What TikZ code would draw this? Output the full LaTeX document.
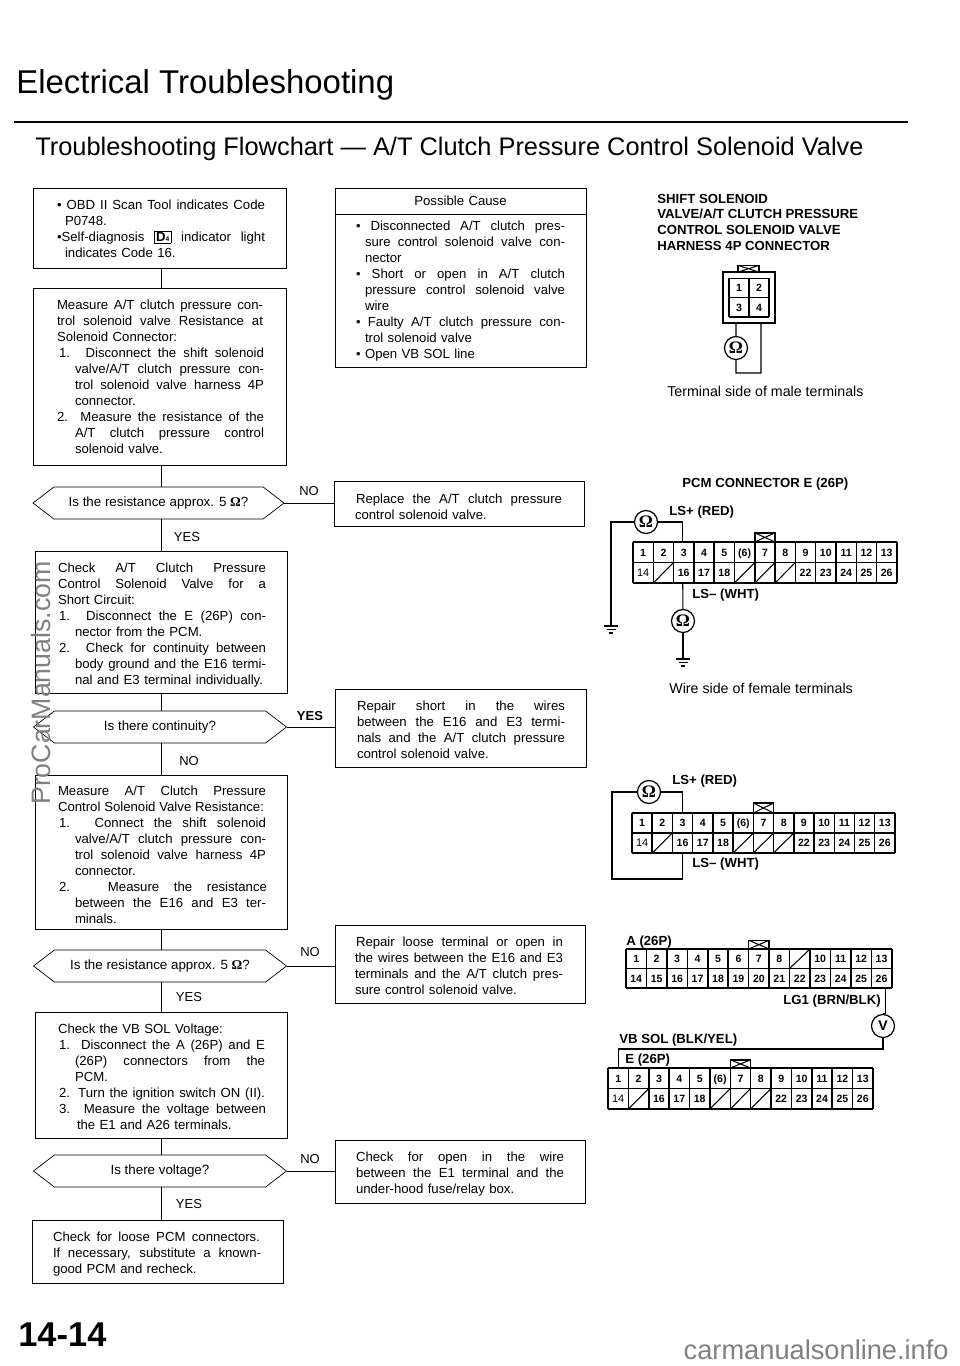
\documentclass[tikz,border=0pt]{standalone}
\usepackage{fontspec}
\setmainfont{Liberation Sans}
\newfontfamily\omegafont{Liberation Serif}
\usetikzlibrary{shapes.symbols}

\def\px{0.02cm}
\newlength\pxu
\setlength\pxu{0.02cm}
\newcommand{\flowfont}{\fontsize{7.5pt}{9.1pt}\selectfont}
\newcommand{\termfont}{\fontsize{6pt}{6pt}\selectfont\bfseries}
\newcommand{\headfont}{\fontsize{7.5pt}{9pt}\selectfont\bfseries}
\newcommand{\fitline}[3]{\hspace*{#1\pxu}\makebox[#2\pxu][s]{\spaceskip=0pt\xspaceskip=0pt\relax #3}}
\newcommand{\plainline}[2]{\hspace*{#1\pxu}#2}
\newcommand{\dropby}[1]{\rule{0pt}{\dimexpr 5.4pt+2\pxu*#1\relax}}
\newcommand{\dfour}{{\setlength\fboxsep{0.7pt}\fbox{\bfseries D\raisebox{0.3pt}{\fontsize{3.8pt}{4pt}\selectfont 4}}}}
\newcommand{\ohm}{{\omegafont\bfseries Ω}}

\tikzset{
  flowbox/.style 2 args={draw, rectangle, inner sep=0pt, outer sep=0pt, align=left, font=\flowfont, text width=230*\px, minimum width=#1*\px, minimum height=#2*\px},
  hexbox/.style={draw, signal, signal to=west and east, signal pointer angle=75, inner sep=0pt, outer sep=0pt, font=\fontsize{7.6pt}{9pt}\selectfont, minimum width=253*\px, minimum height=32*\px},
  flowline/.style={line width=0.5pt},
  answer/.style={font=\fontsize{7.4pt}{9pt}\selectfont, inner sep=0pt},
  wire/.style={line width=0.6pt},
  shell/.style={line width=0.85pt},
  meter/.style={draw, circle, line width=0.7pt, inner sep=0pt, minimum size=23*\px, font=\fontsize{10pt}{10pt}\selectfont},
  termlabel/.style={font=\termfont, inner sep=0pt, text height=4.4pt, text depth=0pt},
  plainterm/.style={termlabel, font=\fontsize{6.2pt}{6pt}\selectfont},
  headline/.style={font=\headfont, inner sep=0pt, anchor=west},
  caption/.style={font=\fontsize{8.1pt}{9pt}\selectfont, inner sep=0pt, anchor=west},
  gnd/.pic={\draw[wire] (-7,0) -- (7,0) (-4.5,3.5) -- (4.5,3.5) (-2,7) -- (2,7);},
}

\begin{document}
\begin{tikzpicture}[x=0.02cm,y=-0.02cm]
\useasboundingbox (0,0) rectangle (960,1366);

\node[anchor=west, inner sep=0pt, font=\fontsize{18.75pt}{20pt}\selectfont] (pagetitle) at (16,85) {Electrical Troubleshooting};
\coordinate (rulea) at (14,122);
\coordinate (ruleb) at (908,122);
\draw[line width=1.6pt] (rulea) -- (ruleb);
\node[anchor=west, inner sep=0pt, font=\fontsize{14.45pt}{16pt}\selectfont] (subtitle) at (35,149) {Troubleshooting Flowchart — A/T Clutch Pressure Control Solenoid Valve};

\coordinate (trunk) at (161,0);

\node[flowbox={253}{80}] (obdbox) at (159.5,228) {%
\dropby{1}\fitline{12.5}{208}{• OBD II Scan Tool indicates Code}\\
\plainline{20.5}{P0748.}\\
\fitline{12.5}{208}{•Self-diagnosis \dfour{} indicator light}\\
\plainline{20.5}{indicates Code 16.}};

\node[flowbox={253}{177}] (measurebox) at (159.5,376.5) {%
\fitline{12.5}{206}{Measure A/T clutch pressure con-}\\
\fitline{12.5}{206}{trol solenoid valve Resistance at}\\
\plainline{12.5}{Solenoid Connector:}\\
\fitline{14.5}{205}{1. Disconnect the shift solenoid}\\
\fitline{30.5}{189}{valve/A/T clutch pressure con-}\\
\fitline{30.5}{189}{trol solenoid valve harness 4P}\\
\plainline{30.5}{connector.}\\
\fitline{12.5}{207}{2. Measure the resistance of the}\\
\fitline{30.5}{189}{A/T clutch pressure control}\\
\plainline{30.5}{solenoid valve.}};

\node[hexbox, minimum width=251*\px] (hexa) at (158.5,503) {Is the resistance approx. 5 \ohm?};

\node[flowbox={252}{142}] (shortbox) at (161.5,622) {%
\dropby{3}\fitline{11.5}{208}{Check A/T Clutch Pressure}\\
\fitline{11.5}{208}{Control Solenoid Valve for a}\\
\plainline{11.5}{Short Circuit:}\\
\fitline{12.5}{207}{1. Disconnect the E (26P) con-}\\
\plainline{28.5}{nector from the PCM.}\\
\fitline{12.5}{207}{2. Check for continuity between}\\
\fitline{28.5}{191}{body ground and the E16 termi-}\\
\fitline{28.5}{188}{nal and E3 terminal individually.}};

\node[hexbox] (hexb) at (160,727) {Is there continuity?};

\node[flowbox={252}{154}] (resistbox) at (161.5,852) {%
\dropby{3}\fitline{11.5}{208}{Measure A/T Clutch Pressure}\\
\fitline{11.5}{206}{Control Solenoid Valve Resistance:}\\
\fitline{12.5}{207}{1. Connect the shift solenoid}\\
\fitline{28.5}{191}{valve/A/T clutch pressure con-}\\
\fitline{28.5}{191}{trol solenoid valve harness 4P}\\
\plainline{28.5}{connector.}\\
\fitline{12.5}{208}{2. Measure the resistance}\\
\fitline{28.5}{191}{between the E16 and E3 ter-}\\
\plainline{28.5}{minals.}};

\node[hexbox] (hexc) at (160,966) {Is the resistance approx. 5 \ohm?};

\node[flowbox={252}{126}] (voltbox) at (161.5,1075) {%
\dropby{2}\plainline{11.5}{Check the VB SOL Voltage:}\\
\fitline{12.5}{206}{1. Disconnect the A (26P) and E}\\
\fitline{28.5}{190}{(26P) connectors from the}\\
\plainline{28.5}{PCM.}\\
\fitline{12.5}{206}{2. Turn the ignition switch ON (II).}\\
\fitline{12.5}{207}{3. Measure the voltage between}\\
\plainline{30.5}{the E1 and A26 terminals.}};

\node[hexbox] (hexd) at (160,1171) {Is there voltage?};

\node[flowbox={251}{63}] (loosebox) at (157.5,1251.5) {%
\dropby{3}\fitline{10.5}{207}{Check for loose PCM connectors.}\\
\fitline{10.5}{208}{If necessary, substitute a known-}\\
\plainline{10.5}{good PCM and recheck.}};

\draw[flowline] (obdbox.south -| trunk) -- (measurebox.north -| trunk);
\draw[flowline] (measurebox.south -| trunk) -- (hexa.north -| trunk);
\draw[flowline] (hexa.south -| trunk) -- (shortbox.north -| trunk);
\draw[flowline] (shortbox.south -| trunk) -- (hexb.north -| trunk);
\draw[flowline] (hexb.south -| trunk) -- (resistbox.north -| trunk);
\draw[flowline] (resistbox.south -| trunk) -- (hexc.north -| trunk);
\draw[flowline] (hexc.south -| trunk) -- (voltbox.north -| trunk);
\draw[flowline] (voltbox.south -| trunk) -- (hexd.north -| trunk);
\draw[flowline] (hexd.south -| trunk) -- (loosebox.north -| trunk);

\node[answer] (yesa) at (187,537) {YES};
\node[answer] (noa) at (189,761) {NO};
\node[answer] (yesb) at (189,997) {YES};
\node[answer] (yesc) at (189,1204) {YES};

\node[flowbox={251}{26}, align=center] (causehead) at (460.5,201) {Possible Cause};
\node[flowbox={251}{153}] (causebox) at (460.5,290.5) {%
\dropby{1}\fitline{10.5}{209}{• Disconnected A/T clutch pres-}\\
\fitline{19.5}{200}{sure control solenoid valve con-}\\
\plainline{19.5}{nector}\\
\fitline{10.5}{209}{• Short or open in A/T clutch}\\
\fitline{19.5}{200}{pressure control solenoid valve}\\
\plainline{19.5}{wire}\\
\fitline{10.5}{209}{• Faulty A/T clutch pressure con-}\\
\plainline{19.5}{trol solenoid valve}\\
\plainline{10.5}{• Open VB SOL line}};

\node[flowbox={250}{45}] (replacebox) at (459,503.5) {%
\dropby{3}\fitline{12}{206}{Replace the A/T clutch pressure}\\
\plainline{11}{control solenoid valve.}};

\node[flowbox={251}{78}] (repairbox) at (460.5,728) {%
\dropby{2}\fitline{11.5}{208}{Repair short in the wires}\\
\fitline{11.5}{208}{between the E16 and E3 termi-}\\
\fitline{11.5}{208}{nals and the A/T clutch pressure}\\
\plainline{11.5}{control solenoid valve.}};

\node[flowbox={250}{78}] (openbox) at (460,964) {%
\dropby{2}\fitline{11}{207}{Repair loose terminal or open in}\\
\fitline{10}{208}{the wires between the E16 and E3}\\
\fitline{10}{208}{terminals and the A/T clutch pres-}\\
\plainline{10}{sure control solenoid valve.}};

\node[flowbox={250}{63}] (wirebox) at (460,1171.5) {%
\dropby{3}\fitline{11}{208}{Check for open in the wire}\\
\fitline{11}{208}{between the E1 terminal and the}\\
\plainline{11}{under-hood fuse/relay box.}};

\draw[flowline] (hexa.east) -- (replacebox.west |- hexa.east);
\draw[flowline] (hexb.east) -- (repairbox.west |- hexb.east);
\draw[flowline] (hexc.east) -- (openbox.west |- hexc.east);
\draw[flowline] (hexd.east) -- (wirebox.west |- hexd.east);

\node[answer] (nob) at (309,491) {NO};
\node[answer, font=\fontsize{7.4pt}{9pt}\selectfont\bfseries] (noc) at (310,716) {YES};
\node[answer] (nod) at (310,952) {NO};
\node[answer] (noe) at (310,1159) {NO};

% harness 4P connector
\node[headline] (heada) at (657,199) {SHIFT SOLENOID};
\node[headline] (headb) at (657,214) {VALVE/A/T CLUTCH PRESSURE};
\node[headline] (headc) at (657,230) {CONTROL SOLENOID VALVE};
\node[headline] (headd) at (657,246) {HARNESS 4P CONNECTOR};

\begin{scope}[shift={(729,317)},x=0.4cm,y=0.39cm]
\draw[shell] (-0.3,-0.3) rectangle (2.3,2.3);
\draw[wire] (0,0) grid[step=1] (2,2);
\draw[shell] (0.45,2.3) rectangle (1.5,2.65);
\draw[wire] (0.45,2.3) -- (1.5,2.65) (0.45,2.65) -- (1.5,2.3);
\node[termlabel] (ha1) at (0.5,1.5) {1};
\node[termlabel] (ha2) at (1.5,1.5) {2};
\node[termlabel] (ha3) at (0.5,0.5) {3};
\node[termlabel] (ha4) at (1.5,0.5) {4};
\coordinate (hwirea) at (0.35,-0.3);
\coordinate (hwireb) at (1.6,-0.3);
\end{scope}

\node[meter] (ohma) at (736,348) {\ohm};
\coordinate (hloop) at (761,373);
\draw[wire] (hwirea) -- (ohma);
\draw[wire] (ohma) |- (hloop) -- (hwireb);
\node[caption] (capa) at (667,391) {Terminal side of male terminals};

% PCM connector E, to ground
\node[headline] (pcmhead) at (682,484) {PCM CONNECTOR E (26P)};
\node[headline] (lsa) at (669,512) {LS+ (RED)};
\node[headline] (lsb) at (692,595) {LS– (WHT)};

\begin{scope}[shift={(633,583)},x=0.406cm,y=0.41cm]
\draw[shell] (0,0) grid[step=1] (13,2);
\draw[shell] (6,2) rectangle (7,2.45);
\draw[wire] (6,2) -- (7,2.45) (6,2.45) -- (7,2);
\draw[wire] (1,0) -- (2,1) (5,0) -- (6,1) (6,0) -- (7,1) (7,0) -- (8,1);
\node[termlabel] (pa1) at (0.5,1.5) {1};
\node[termlabel] (pa2) at (1.5,1.5) {2};
\node[termlabel] (pa3) at (2.5,1.5) {3};
\node[termlabel] (pa4) at (3.5,1.5) {4};
\node[termlabel] (pa5) at (4.5,1.5) {5};
\node[termlabel] (pa6) at (5.5,1.5) {(6)};
\node[termlabel] (pa7) at (6.5,1.5) {7};
\node[termlabel] (pa8) at (7.5,1.5) {8};
\node[termlabel] (pa9) at (8.5,1.5) {9};
\node[termlabel] (pa10) at (9.5,1.5) {10};
\node[termlabel] (pa11) at (10.5,1.5) {11};
\node[termlabel] (pa12) at (11.5,1.5) {12};
\node[termlabel] (pa13) at (12.5,1.5) {13};
\node[plainterm] (pa14) at (0.5,0.5) {14};
\node[termlabel] (pa16) at (2.5,0.5) {16};
\node[termlabel] (pa17) at (3.5,0.5) {17};
\node[termlabel] (pa18) at (4.5,0.5) {18};
\node[termlabel] (pa22) at (8.5,0.5) {22};
\node[termlabel] (pa23) at (9.5,0.5) {23};
\node[termlabel] (pa24) at (10.5,0.5) {24};
\node[termlabel] (pa25) at (11.5,0.5) {25};
\node[termlabel] (pa26) at (12.5,0.5) {26};
\coordinate (patop) at (2.45,2);
\coordinate (pabot) at (2.45,0);
\end{scope}

\node[meter] (ohmb) at (646,522) {\ohm};
\node[meter] (ohmc) at (683,621) {\ohm};
\coordinate (gnda) at (611,626);
\coordinate (gndb) at (683,659);
\draw[wire] (ohmb) -| (patop);
\draw[wire] (ohmb) -| (gnda);
\draw[wire] (pabot) -- (ohmc);
\draw[wire] (ohmc) -- (gndb);
\pic at (gnda) {gnd};
\pic at (gndb) {gnd};
\node[caption] (capb) at (669,688) {Wire side of female terminals};

% PCM connector E, LS+ to LS-
\node[headline] (lsc) at (672,781) {LS+ (RED)};
\node[headline] (lsd) at (692,864) {LS– (WHT)};

\begin{scope}[shift={(632,853)},x=0.4046cm,y=0.4cm]
\draw[shell] (0,0) grid[step=1] (13,2);
\draw[shell] (6,2) rectangle (7,2.5);
\draw[wire] (6,2) -- (7,2.5) (6,2.5) -- (7,2);
\draw[wire] (1,0) -- (2,1) (5,0) -- (6,1) (6,0) -- (7,1) (7,0) -- (8,1);
\node[termlabel] (pb1) at (0.5,1.5) {1};
\node[termlabel] (pb2) at (1.5,1.5) {2};
\node[termlabel] (pb3) at (2.5,1.5) {3};
\node[termlabel] (pb4) at (3.5,1.5) {4};
\node[termlabel] (pb5) at (4.5,1.5) {5};
\node[termlabel] (pb6) at (5.5,1.5) {(6)};
\node[termlabel] (pb7) at (6.5,1.5) {7};
\node[termlabel] (pb8) at (7.5,1.5) {8};
\node[termlabel] (pb9) at (8.5,1.5) {9};
\node[termlabel] (pb10) at (9.5,1.5) {10};
\node[termlabel] (pb11) at (10.5,1.5) {11};
\node[termlabel] (pb12) at (11.5,1.5) {12};
\node[termlabel] (pb13) at (12.5,1.5) {13};
\node[plainterm] (pb14) at (0.5,0.5) {14};
\node[termlabel] (pb16) at (2.5,0.5) {16};
\node[termlabel] (pb17) at (3.5,0.5) {17};
\node[termlabel] (pb18) at (4.5,0.5) {18};
\node[termlabel] (pb22) at (8.5,0.5) {22};
\node[termlabel] (pb23) at (9.5,0.5) {23};
\node[termlabel] (pb24) at (10.5,0.5) {24};
\node[termlabel] (pb25) at (11.5,0.5) {25};
\node[termlabel] (pb26) at (12.5,0.5) {26};
\coordinate (pbtop) at (2.5,2);
\coordinate (pbbot) at (2.5,0);
\end{scope}

\node[meter] (ohmd) at (649,792) {\ohm};
\coordinate (loopa) at (612,879);
\draw[wire] (ohmd) -| (pbtop);
\draw[wire] (ohmd) -| (loopa) -| (pbbot);

% A and E connectors, voltmeter
\node[headline] (ahead) at (626,942) {A (26P)};
\node[headline] (lgone) at (783,1001) {LG1 (BRN/BLK)};
\node[headline] (vbsol) at (619,1040) {VB SOL (BLK/YEL)};
\node[headline] (ehead) at (625,1060) {E (26P)};

\begin{scope}[shift={(626,988)},x=0.409cm,y=0.39cm]
\draw[shell] (0,0) grid[step=1] (13,2);
\draw[shell] (6,2) rectangle (7,2.45);
\draw[wire] (6,2) -- (7,2.45) (6,2.45) -- (7,2);
\draw[wire] (8,1) -- (9,2);
\node[termlabel] (aa1) at (0.5,1.5) {1};
\node[termlabel] (aa2) at (1.5,1.5) {2};
\node[termlabel] (aa3) at (2.5,1.5) {3};
\node[termlabel] (aa4) at (3.5,1.5) {4};
\node[termlabel] (aa5) at (4.5,1.5) {5};
\node[termlabel] (aa6) at (5.5,1.5) {6};
\node[termlabel] (aa7) at (6.5,1.5) {7};
\node[termlabel] (aa8) at (7.5,1.5) {8};
\node[termlabel] (aa10) at (9.5,1.5) {10};
\node[termlabel] (aa11) at (10.5,1.5) {11};
\node[termlabel] (aa12) at (11.5,1.5) {12};
\node[termlabel] (aa13) at (12.5,1.5) {13};
\node[termlabel] (aa14) at (0.5,0.5) {14};
\node[termlabel] (aa15) at (1.5,0.5) {15};
\node[termlabel] (aa16) at (2.5,0.5) {16};
\node[termlabel] (aa17) at (3.5,0.5) {17};
\node[termlabel] (aa18) at (4.5,0.5) {18};
\node[termlabel] (aa19) at (5.5,0.5) {19};
\node[termlabel] (aa20) at (6.5,0.5) {20};
\node[termlabel] (aa21) at (7.5,0.5) {21};
\node[termlabel] (aa22) at (8.5,0.5) {22};
\node[termlabel] (aa23) at (9.5,0.5) {23};
\node[termlabel] (aa24) at (10.5,0.5) {24};
\node[termlabel] (aa25) at (11.5,0.5) {25};
\node[termlabel] (aa26) at (12.5,0.5) {26};
\coordinate (aabot) at (12.7,0);
\end{scope}

\begin{scope}[shift={(608,1109)},x=0.4077cm,y=0.41cm]
\draw[shell] (0,0) grid[step=1] (13,2);
\draw[shell] (6,2) rectangle (7,2.4);
\draw[wire] (6,2) -- (7,2.4) (6,2.4) -- (7,2);
\draw[wire] (1,0) -- (2,1) (5,0) -- (6,1) (6,0) -- (7,1) (7,0) -- (8,1);
\node[termlabel] (ee1) at (0.5,1.5) {1};
\node[termlabel] (ee2) at (1.5,1.5) {2};
\node[termlabel] (ee3) at (2.5,1.5) {3};
\node[termlabel] (ee4) at (3.5,1.5) {4};
\node[termlabel] (ee5) at (4.5,1.5) {5};
\node[termlabel] (ee6) at (5.5,1.5) {(6)};
\node[termlabel] (ee7) at (6.5,1.5) {7};
\node[termlabel] (ee8) at (7.5,1.5) {8};
\node[termlabel] (ee9) at (8.5,1.5) {9};
\node[termlabel] (ee10) at (9.5,1.5) {10};
\node[termlabel] (ee11) at (10.5,1.5) {11};
\node[termlabel] (ee12) at (11.5,1.5) {12};
\node[termlabel] (ee13) at (12.5,1.5) {13};
\node[plainterm] (ee14) at (0.5,0.5) {14};
\node[termlabel] (ee16) at (2.5,0.5) {16};
\node[termlabel] (ee17) at (3.5,0.5) {17};
\node[termlabel] (ee18) at (4.5,0.5) {18};
\node[termlabel] (ee22) at (8.5,0.5) {22};
\node[termlabel] (ee23) at (9.5,0.5) {23};
\node[termlabel] (ee24) at (10.5,0.5) {24};
\node[termlabel] (ee25) at (11.5,0.5) {25};
\node[termlabel] (ee26) at (12.5,0.5) {26};
\coordinate (eetop) at (0.5,2);
\end{scope}

\node[meter, font=\fontsize{8pt}{8pt}\selectfont\bfseries] (voltm) at (883,1026) {V};
\coordinate (vbend) at (883,1049);
\draw[wire] (aabot) |- (voltm.north);
\draw[wire] (voltm) -- (vbend) -| (eetop);

\node[inner sep=0pt, anchor=west, font=\fontsize{19.6pt}{22pt}\selectfont\bfseries] (pagenum) at (18,1335) {14-14};
\node[inner sep=0pt, anchor=east, text=black!50, font=\fontsize{15.5pt}{16pt}\selectfont] (marka) at (949,1350) {carmanualsonline.info};
\node[inner sep=0pt, rotate=90, text=black!50, font=\fontsize{15.2pt}{16pt}\selectfont] (markb) at (41,683) {ProCarManuals.com};
\end{tikzpicture}
\end{document}
